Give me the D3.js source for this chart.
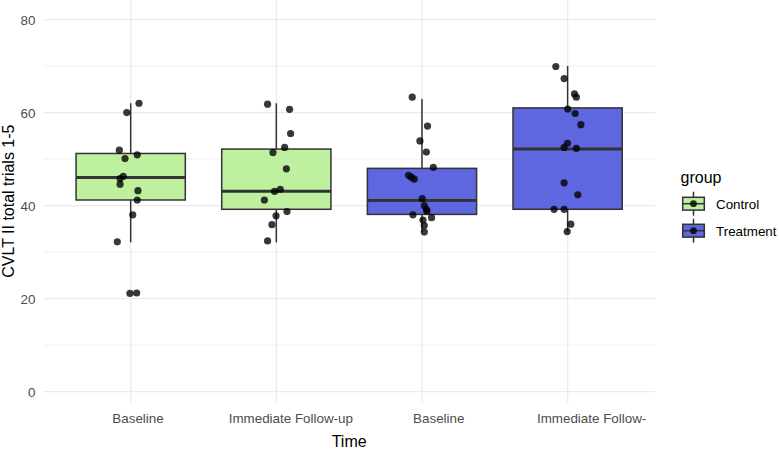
<!DOCTYPE html>
<html>
<head>
<meta charset="utf-8">
<script src="https://cdn.jsdelivr.net/npm/d3@7/dist/d3.min.js"></script>
<style>
  html, body { margin: 0; padding: 0; background: #fff; }
  svg { display: block; font-family: "Liberation Sans", Arial, sans-serif; }
</style>
</head>
<body>
<svg id="chart" width="779" height="450"></svg>
<script>
// ---- data ----
const categories = ["Control Baseline", "Control Follow-up", "Treatment Baseline", "Treatment Follow-up"];
const tickLabels = ["Baseline", "Immediate Follow-up", "Baseline", "Immediate Follow-"];
const boxGroup = ["Control", "Control", "Treatment", "Treatment"];
const groups = ["Control", "Treatment"];
const yTicks = [0, 20, 40, 60, 80];
const yMinorTicks = [10, 30, 50, 70];

// box statistics: lower whisker, Q1, median, Q3, upper whisker
const whiskerLow = [32.1, 32.1, 34.3, 34.4];
const q1 = [41.2, 39.2, 38.1, 39.2];
const median = [46.06, 43.1, 41.1, 52.15];
const q3 = [51.2, 52.15, 48.0, 61.0];
const whiskerHigh = [62.0, 62.0, 62.9, 70.0];

// jittered points (values, and horizontal jitter in category units)
const controlBaseline = [62.0, 60.0, 51.9, 50.9, 50.1, 46.3, 45.8, 44.6, 43.2, 41.2, 38.0, 32.2, 21.1, 21.2];
const controlBaselineJitter = [0.057, -0.027, -0.078, 0.045, -0.039, -0.051, -0.073, -0.073, 0.050, 0.045, 0.014, -0.092, -0.005, 0.041];
const controlFollow = [61.8, 60.7, 55.5, 52.5, 51.4, 47.9, 43.5, 43.05, 41.2, 38.7, 37.8, 35.9, 32.4];
const controlFollowJitter = [-0.060, 0.091, 0.098, 0.057, -0.023, 0.069, 0.027, -0.012, -0.082, 0.073, -0.002, -0.030, -0.060];
const treatmentBaseline = [63.3, 57.1, 53.9, 51.5, 48.2, 46.5, 46.1, 45.7, 41.5, 40.0, 39.2, 38.8, 38.0, 37.4, 36.9, 35.7, 34.3];
const treatmentBaselineJitter = [-0.067, 0.038, -0.014, 0.030, 0.078, -0.092, -0.073, -0.053, 0.002, 0.016, 0.030, 0.034, -0.062, 0.066, 0.007, 0.016, 0.016];
const treatmentFollow = [69.9, 67.3, 64.0, 63.3, 60.75, 59.8, 57.4, 53.4, 52.5, 52.3, 44.9, 42.3, 39.2, 39.2, 36.0, 34.4];
const treatmentFollowJitter = [-0.081, -0.024, 0.047, 0.060, 0.001, 0.052, 0.091, -0.001, -0.024, 0.060, -0.024, 0.070, -0.093, -0.024, 0.022, -0.003];

const pointValues = [controlBaseline, controlFollow, treatmentBaseline, treatmentFollow];
const pointJitter = [controlBaselineJitter, controlFollowJitter, treatmentBaselineJitter, treatmentFollowJitter];

// ---- layout ----
const colors = { Control: "#BEF0A0", Treatment: "#5E66E0" };
const panel = { left: 43.3, right: 655, top: 0, bottom: 402.3 };
const svg = d3.select("#chart");

const x = d3.scalePoint().domain(categories).range([panel.left, panel.right]).padding(0.6);
const step = x.step();
const y = d3.scaleLinear().domain([-2.3, 84.2]).range([panel.bottom, panel.top]);
const boxW = 0.75 * step;

// grid
const grid = svg.append("g");
grid.selectAll("line.minor").data(yMinorTicks).join("line")
  .attr("x1", panel.left).attr("x2", panel.right)
  .attr("y1", d => y(d)).attr("y2", d => y(d))
  .attr("stroke", "#ebebeb").attr("stroke-width", 0.7);
grid.selectAll("line.major").data(yTicks).join("line")
  .attr("x1", panel.left).attr("x2", panel.right)
  .attr("y1", d => y(d)).attr("y2", d => y(d))
  .attr("stroke", "#ebebeb").attr("stroke-width", 1.3);
grid.selectAll("line.vx").data(categories).join("line")
  .attr("x1", d => x(d)).attr("x2", d => x(d))
  .attr("y1", panel.top).attr("y2", panel.bottom)
  .attr("stroke", "#ebebeb").attr("stroke-width", 1.3);

// axes (text only, like theme_minimal)
const yAxis = d3.axisLeft(y).tickValues(yTicks).tickSize(0).tickPadding(0);
const yg = svg.append("g").attr("transform", `translate(${35.5},0)`).call(yAxis);
yg.select(".domain").remove();
yg.selectAll("text").attr("fill", "#4d4d4d").attr("font-size", 13.4)
  .attr("font-family", "Liberation Sans, Arial, sans-serif").attr("dy", "0.36em").attr("x", 0);

const labelDx = [6.8, 14, 16.3, 23.5];
const xAxis = d3.axisBottom(x).tickSize(0).tickPadding(0).tickFormat((d, i) => tickLabels[i]);
const xg = svg.append("g").attr("transform", `translate(0,${423})`).call(xAxis);
xg.select(".domain").remove();
xg.selectAll("text").attr("fill", "#4d4d4d").attr("font-size", 13.4)
  .attr("font-family", "Liberation Sans, Arial, sans-serif")
  .attr("dy", 0).attr("y", 0)
  .attr("dx", (d, i) => labelDx[i]);

// axis titles
svg.append("text").attr("x", (panel.left + panel.right) / 2).attr("y", 447)
  .attr("text-anchor", "middle").attr("font-size", 16).attr("fill", "#000").text("Time");
svg.append("text").attr("transform", `translate(14,${(panel.top + panel.bottom) / 2}) rotate(-90)`)
  .attr("text-anchor", "middle").attr("font-size", 16).attr("fill", "#000").text("CVLT II total trials 1-5");

// boxes
const boxes = svg.append("g");
categories.forEach((c, i) => {
  const cx = x(c);
  const g = boxes.append("g");
  g.append("line").attr("x1", cx).attr("x2", cx).attr("y1", y(q3[i])).attr("y2", y(whiskerHigh[i]))
    .attr("stroke", "#333").attr("stroke-width", 1.5);
  g.append("line").attr("x1", cx).attr("x2", cx).attr("y1", y(q1[i])).attr("y2", y(whiskerLow[i]))
    .attr("stroke", "#333").attr("stroke-width", 1.5);
  g.append("rect").attr("x", cx - boxW / 2).attr("width", boxW)
    .attr("y", y(q3[i])).attr("height", y(q1[i]) - y(q3[i]))
    .attr("fill", colors[boxGroup[i]]).attr("stroke", "#333").attr("stroke-width", 1.5);
  g.append("line").attr("x1", cx - boxW / 2).attr("x2", cx + boxW / 2)
    .attr("y1", y(median[i])).attr("y2", y(median[i]))
    .attr("stroke", "#333").attr("stroke-width", 3);
});

// points
const pts = svg.append("g");
categories.forEach((c, i) => {
  pts.selectAll(null).data(pointValues[i].map((v, j) => ({ v, j: pointJitter[i][j] }))).join("circle")
    .attr("cx", d => x(c) + d.j * step)
    .attr("cy", d => y(d.v))
    .attr("r", 3.6)
    .attr("fill", "#000").attr("fill-opacity", 0.78);
});

// legend
const leg = svg.append("g");
leg.append("text").attr("x", 680.5).attr("y", 182.5).attr("font-size", 16).attr("fill", "#000").text("group");
const keyCx = 693.5, keyY0 = 203.7, keyStep = 27;
groups.forEach((gname, i) => {
  const cy = keyY0 + i * keyStep;
  const k = leg.append("g");
  k.append("line").attr("x1", keyCx).attr("x2", keyCx).attr("y1", cy - 12).attr("y2", cy + 12)
    .attr("stroke", "#333").attr("stroke-width", 1.5);
  k.append("rect").attr("x", keyCx - 10.8).attr("y", cy - 6.4).attr("width", 21.6).attr("height", 12.8)
    .attr("fill", colors[gname]).attr("stroke", "#333").attr("stroke-width", 1.5);
  k.append("line").attr("x1", keyCx - 10.8).attr("x2", keyCx + 10.8).attr("y1", cy).attr("y2", cy)
    .attr("stroke", "#333").attr("stroke-width", 1.5);
  k.append("circle").attr("cx", keyCx).attr("cy", cy).attr("r", 3.4).attr("fill", "#000").attr("fill-opacity", 0.8);
  k.append("text").attr("x", 716).attr("y", cy).attr("dy", "0.36em").attr("font-size", 13.4)
    .attr("fill", "#000").text(gname);
});
</script>
</body>
</html>
